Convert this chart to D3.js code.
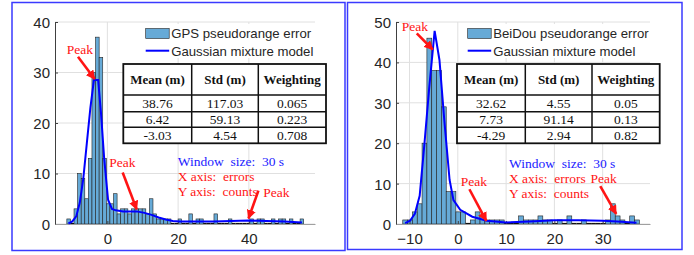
<!DOCTYPE html>
<html>
<head>
<meta charset="utf-8">
<script src="https://cdn.jsdelivr.net/npm/d3@7/dist/d3.min.js"></script>
<style>
  body { margin: 0; background: #fff; }
  svg { display: block; }
  .tick text { font-family: Arial, "Liberation Sans", sans-serif; font-size: 15px; fill: #262626; }
</style>
</head>
<body>
<svg id="chart" width="694" height="255"></svg>
<script>
'use strict';
/*
 *
 *	Essential Variables
 *
 */
// GPS histogram (bin edges start at gpsBinLo, width gpsBinW)
var gpsBinLo = -11.45, gpsBinW = 1.0144;
var gpsCounts = [1,0,3,10,9,5,13,30,37,33, 13,4,4,6,2,3,3,2,3,3, 3,3,2,5,2,1,1,1,1,0,
  0,1,0,0,2,0,1,1,0,0, 0,2,0,0,0,1,0,0,0,0, 0,1,0,1,1,0,0,1,0,1, 1,0,1,0,0,1];
var gpsCurveX = [-11,-9.9,-8.8,-7.8,-6.8,-5.8,-4.8,-3.8,-2.6,-1.8,-0.9,0.2,1.3,2.4,4.5,8.3,10.5,12.5,14.5,16.5,18.5,20.5,25,30,35,40,45,50,55];
var gpsCurveY = [0.1,0.5,1.5,4.2,9,16,23,28.5,28.5,22,13,4.8,3.0,2.7,2.5,2.5,2.2,1.8,1.3,0.9,0.6,0.5,0.5,0.5,0.6,0.7,0.6,0.5,0.3];

// BeiDou histogram
var bdsBinLo = -11.4, bdsBinW = 1.0;
var bdsCounts = [1,1,3,5,20,46,38,38,29,8, 8,3,3,0,1,3,2,1,1,1, 1,0,0,0,2,1,1,1,2,1,
  1,0,1,0,2,0,0,1,0,0, 0,0,1,5,2,1,0,2,1];
var bdsCurveX = [-10.9,-9.9,-8.9,-7.9,-6.9,-5.9,-4.8,-3.8,-2.8,-1.7,-0.9,0.5,3,6,10,15,20,25,30,33,37];
var bdsCurveY = [0.2,0.8,2.5,7,20,34,47.8,40.6,25.7,10.9,5.9,3.5,1.8,0.8,0.4,0.6,0.9,0.9,0.8,0.6,0.3];

// tables
var tableHead = ["Mean (m)", "Std (m)", "Weighting"];
var gpsTable = [["38.76","117.03","0.065"],["6.42","59.13","0.223"],["-3.03","4.54","0.708"]];
var bdsTable = [["32.62","4.55","0.05"],["7.73","91.14","0.13"],["-4.29","2.94","0.82"]];

var gpsYTicks = [0,10,20,30,40], gpsXTicks = [0,20,40];
var bdsYTicks = [0,10,20,30,40,50], bdsXTicks = [-10,0,10,20,30];

var barFill = "#66aad7", red = "#ff1414", blue = "#1a1aff";
var serif = "'Liberation Serif', 'Times New Roman', Times, serif";
var sans = "Arial, 'Liberation Sans', sans-serif";

var svg = d3.select("#chart");
svg.append("defs").append("marker")
  .attr("id","head").attr("viewBox","0 0 10 10").attr("refX",9).attr("refY",5)
  .attr("markerWidth",3.6).attr("markerHeight",3.6).attr("orient","auto")
  .append("path").attr("d","M0,0 L10,5 L0,10 z").attr("fill",red);

/*
 *
 *		Draw one panel
 *
 */
function drawPanel(p){
  // frame
  svg.append("rect").attr("x",p.frame[0]).attr("y",p.frame[1])
    .attr("width",p.frame[2]).attr("height",p.frame[3])
    .attr("fill","none").attr("stroke","#3a3aff").attr("stroke-width",1.5);

  var x = d3.scaleLinear().domain(p.xDom).range([p.left, p.right]);
  var y = d3.scaleLinear().domain(p.yDom).range([224, 22]);
  var g = svg.append("g");

  // grid
  g.selectAll(".gx").data(p.xTicks).enter().append("line")
    .attr("x1",function(d){return x(d);}).attr("x2",function(d){return x(d);})
    .attr("y1",y(p.yDom[0])).attr("y2",y(p.yDom[1]))
    .attr("stroke","#e0e0e0").attr("stroke-width",1);
  g.selectAll(".gy").data(p.yTicks).enter().append("line")
    .attr("x1",p.left).attr("x2",p.right)
    .attr("y1",function(d){return y(d);}).attr("y2",function(d){return y(d);})
    .attr("stroke","#e0e0e0").attr("stroke-width",1);

  // bars
  var bins = p.counts.map(function(c,i){ return {lo: p.binLo + i*p.binW, hi: p.binLo + (i+1)*p.binW, c: c}; });
  g.selectAll(".bar").data(bins.filter(function(b){return b.c>0;})).enter().append("rect")
    .attr("x",function(b){return x(b.lo);})
    .attr("width",function(b){return x(b.hi)-x(b.lo);})
    .attr("y",function(b){return y(b.c);})
    .attr("height",function(b){return y(0)-y(b.c);})
    .attr("fill",barFill).attr("stroke","#222").attr("stroke-width",0.6);
  g.selectAll(".zero").data(bins.filter(function(b){return b.c===0;})).enter().append("line")
    .attr("x1",function(b){return x(b.lo);}).attr("x2",function(b){return x(b.hi);})
    .attr("y1",y(0)-0.5).attr("y2",y(0)-0.5)
    .attr("stroke","#111").attr("stroke-width",1.2);

  // axes
  var ya = g.append("g").attr("transform","translate("+p.left+",0)")
    .call(d3.axisLeft(y).tickValues(p.yTicks).tickSizeInner(-3).tickSizeOuter(0).tickPadding(5));
  var xa = g.append("g").attr("transform","translate(0,"+y(0)+")")
    .call(d3.axisBottom(x).tickValues(p.xTicks).tickSizeInner(-3).tickSizeOuter(0).tickPadding(6));
  ya.select(".domain").attr("stroke","#404040");
  xa.select(".domain").attr("stroke","#a0a0a0");
  ya.selectAll(".tick line").attr("stroke","#404040");
  xa.selectAll(".tick line").attr("stroke","#404040");
  ya.selectAll("text").attr("dy","0.36em");
  xa.selectAll("text").attr("dy","0.9em");

  // gaussian mixture curve
  var line = d3.line().x(function(d){return x(d[0]);}).y(function(d){return y(d[1]);});
  g.append("path").datum(d3.zip(p.curveX,p.curveY)).attr("d",line)
    .attr("fill","none").attr("stroke","#0000ff").attr("stroke-width",2);

  // legend
  var L = p.legend;
  g.append("rect").attr("x",L[0]-3).attr("y",24).attr("width",L[2]).attr("height",34).attr("fill","#fff");
  g.append("rect").attr("x",L[0]).attr("y",28.5).attr("width",23.5).attr("height",10)
    .attr("fill",barFill).attr("stroke","#222").attr("stroke-width",0.6);
  g.append("line").attr("x1",L[0]).attr("x2",L[0]+23.5).attr("y1",50.7).attr("y2",50.7)
    .attr("stroke","#0000ff").attr("stroke-width",2);
  g.append("text").attr("x",L[0]+25.5).attr("y",38).text(p.label)
    .style("font-family",sans).style("font-size","13.2px").attr("fill","#262626");
  g.append("text").attr("x",L[0]+25.5).attr("y",55.5).text("Gaussian mixture model")
    .style("font-family",sans).style("font-size","13.2px").attr("fill","#262626");

  // table
  var cx = p.tableX, ry = [64, 95, 111.7, 127.3, 143.3];
  g.append("rect").attr("x",cx[0]).attr("y",ry[0]).attr("width",cx[3]-cx[0]).attr("height",ry[4]-ry[0])
    .attr("fill","#fff").attr("stroke","#111").attr("stroke-width",1.8);
  [1,2].forEach(function(i){
    g.append("line").attr("x1",cx[i]).attr("x2",cx[i]).attr("y1",ry[0]).attr("y2",ry[4])
      .attr("stroke","#111").attr("stroke-width",1.5);
  });
  [1,2,3].forEach(function(i){
    g.append("line").attr("x1",cx[0]).attr("x2",cx[3]).attr("y1",ry[i]).attr("y2",ry[i])
      .attr("stroke","#111").attr("stroke-width",1.4);
  });
  tableHead.forEach(function(h,j){
    g.append("text").attr("x",(cx[j]+cx[j+1])/2).attr("y",(ry[0]+ry[1])/2+4.5)
      .attr("text-anchor","middle").style("font-family",serif).style("font-size","13px")
      .style("font-weight","bold").attr("fill","#111").text(h);
  });
  p.table.forEach(function(row,i){
    row.forEach(function(v,j){
      g.append("text").attr("x",(cx[j]+cx[j+1])/2).attr("y",(ry[i+1]+ry[i+2])/2+4.5)
        .attr("text-anchor","middle").style("font-family",serif).style("font-size","13.5px")
        .attr("fill","#111").text(v);
    });
  });

  // annotations (data coordinates)
  function note(t,dx,dy,col){
    g.append("text").attr("x",x(dx)).attr("y",y(dy)+4.5)
      .attr("fill",col).style("font-family",serif).style("font-size","13.5px")
      .style("white-space","pre").text(t);
  }
  p.peaks.forEach(function(a){
    note("Peak",a.t[0],a.t[1],red);
    g.append("line").attr("x1",x(a.from[0])).attr("y1",y(a.from[1]))
      .attr("x2",x(a.to[0])).attr("y2",y(a.to[1]))
      .attr("stroke",red).attr("stroke-width",2.6).attr("marker-end","url(#head)");
  });
  note("Window  size:  30 s",p.info[0],p.info[1],blue);
  note("X axis:  errors",p.info[0],p.info[2],red);
  note("Y axis:  counts",p.info[0],p.info[3],red);
}

drawPanel({
  frame:[12,2.5,333,248], xDom:[-14.8,58.7], yDom:[0,40], left:55, right:315,
  xTicks:gpsXTicks, yTicks:gpsYTicks, counts:gpsCounts, binLo:gpsBinLo, binW:gpsBinW,
  curveX:gpsCurveX, curveY:gpsCurveY, label:"GPS pseudorange error",
  legend:[145.7,0,168], tableX:[123.3,191.7,258.3,326], table:gpsTable,
  peaks:[{t:[-11.5,34.65],from:[-8.3,33.1],to:[-3.6,28.7]},
         {t:[0.54,12.1],from:[4.33,10.2],to:[8.3,2.9]},
         {t:[44.1,6.3],from:[42.7,6.6],to:[39.9,1.1]}],
  info:[19.9,12.3,9.5,6.5]
});
drawPanel({
  frame:[347.5,2.5,334.5,247], xDom:[-12.8,39.8], yDom:[0,50], left:396, right:650,
  xTicks:bdsXTicks, yTicks:bdsYTicks, counts:bdsCounts, binLo:bdsBinLo, binW:bdsBinW,
  curveX:bdsCurveX, curveY:bdsCurveY, label:"BeiDou pseudorange error",
  legend:[467.7,0,182], tableX:[457,525.3,592,659.7], table:bdsTable,
  peaks:[{t:[-11.6,48.8],from:[-8.5,47.2],to:[-5.2,43.2]},
         {t:[0.6,10.5],from:[2.4,8.6],to:[5.9,0.8]},
         {t:[27.5,11.3],from:[29.5,9.4],to:[32.8,2.5]}],
  info:[10.6,15.0,11.3,7.6]
});
</script>
</body>
</html>
